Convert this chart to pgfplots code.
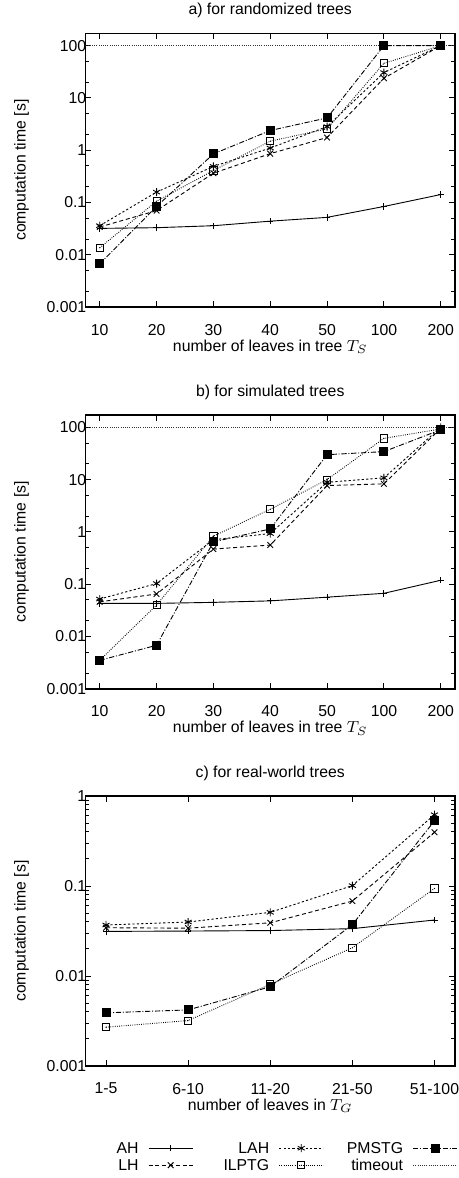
\documentclass[border=0pt]{standalone}
\usepackage{fontspec}
\setmainfont{Liberation Sans}
\usepackage{pgfplots}
\usepackage{pgfplotstable}
\pgfplotsset{compat=1.18}

% open square with a dot in the middle (gnuplot point type)
\pgfdeclareplotmark{sqdot}{%
  \pgfpathrectangle{\pgfqpoint{-\pgfplotmarksize}{-\pgfplotmarksize}}%
    {\pgfqpoint{2\pgfplotmarksize}{2\pgfplotmarksize}}%
  \pgfusepathqstroke
  \pgfpathcircle{\pgfpointorigin}{0.3pt}\pgfusepathqfill}

% randomized trees
\pgfplotstableread{
x AH LH LAH ILPTG PMSTG
0 0.032 0.034 0.036 0.0136 0.0067
1 0.033 0.070 0.158 0.106 0.084
2 0.036 0.363 0.49 0.41 0.85
3 0.044 0.86 1.1 1.49 2.38
4 0.052 1.75 2.83 2.56 4.15
5 0.084 23.8 30.5 45.9 100
6 0.142 100 100 100 100
}\randtab

% simulated trees
\pgfplotstableread{
x AH LH LAH ILPTG PMSTG
0 0.043 0.046 0.052 0.0035 0.0035
1 0.043 0.065 0.103 0.040 0.0068
2 0.045 0.47 0.71 0.83 0.645
3 0.048 0.56 0.93 2.71 1.14
4 0.0565 7.7 8.9 10 30
5 0.067 8.3 10.8 61.5 34.3
6 0.119 96 100 93 90
}\simtab

% real-world trees
\pgfplotstableread{
x AH LH LAH ILPTG PMSTG
0 0.0313 0.0344 0.0369 0.0027 0.0039
1 0.0316 0.034 0.0398 0.0032 0.0042
2 0.032 0.039 0.051 0.0081 0.0076
3 0.0336 0.068 0.101 0.0206 0.0372
4 0.0419 0.395 0.62 0.094 0.53
}\realtab

\pgfplotsset{
  every axis/.append style={
    scale only axis, width=184.75pt,
    axis line style={line width=0.8pt},
    major tick length=3pt, minor tick length=1.8pt,
    every tick/.style={black, line width=0.5pt},
    tick align=inside,
    yticklabel style={xshift=3.9pt},
    xticklabel style={yshift=-5pt},
    title style={at={(0.5,1)}, anchor=base, yshift=3.5pt},
    xlabel style={at={(0.5,0)}, anchor=base, yshift=-22pt},
    ylabel style={at={(-0.173,0.5)}, anchor=center},
    ylabel={computation time [s]},
    legend image code/.code={%
      \draw[mark repeat=2,mark phase=2,#1]
        plot coordinates {(0pt,0pt) (11pt,0pt) (22pt,0pt)};},
  },
  ah/.style={black, line width=0.45pt, mark=+, mark size=1.6pt},
  lh/.style={black, line width=0.45pt, dash pattern=on 2pt off 1.4pt,
    mark=x, mark size=2pt, mark options={solid}},
  lah/.style={black, line width=0.45pt, dash pattern=on 1.1pt off 1.1pt,
    mark=asterisk, mark size=2pt, mark options={solid}},
  ilp/.style={black, line width=0.45pt, dash pattern=on 0.4pt off 0.7pt,
    mark=sqdot, mark size=1.8pt, mark options={solid, fill=black}},
  pms/.style={black, line width=0.45pt,
    dash pattern=on 2.6pt off 0.9pt on 0.5pt off 0.9pt,
    mark=square*, mark size=2pt, mark options={solid}},
  tmo/.style={black!80, line width=0.4pt, dash pattern=on 0.4pt off 0.7pt},
}

\begin{document}
\begin{tikzpicture}[font=\fontsize{7.9pt}{9.5pt}\selectfont]
\useasboundingbox (-42.75pt,-572.35pt) rectangle (186.75pt,16.65pt);

% a) randomized trees
\begin{axis}[ymode=log, anchor=north west, at={(0pt,0pt)}, height=136.9pt,
    xmin=-0.25, xmax=6.25, ymin=0.001, ymax=172,
    xtick={0,...,6},
    ytick={0.001,0.01,0.1,1,10,100},
    yticklabels={0.001,0.01,0.1,1,10,100},
    minor ytick={0.002,0.005,0.02,0.05,0.2,0.5,2,5,20,50},
    xticklabels={10,20,30,40,50,100,200},
    title={a) for randomized trees},
    xlabel={number of leaves in tree $T_S$}]
\addplot[tmo] coordinates {(-0.25,100) (6.25,100)};
\addplot[ah] table[y=AH] {\randtab};
\addplot[lh] table[y=LH] {\randtab};
\addplot[lah] table[y=LAH] {\randtab};
\addplot[ilp] table[y=ILPTG] {\randtab};
\addplot[pms] table[y=PMSTG] {\randtab};
\end{axis}

% b) simulated trees
\begin{axis}[ymode=log, anchor=north west, at={(0pt,-190.85pt)}, height=136.9pt,
    xmin=-0.25, xmax=6.25, ymin=0.001, ymax=172,
    xtick={0,...,6},
    ytick={0.001,0.01,0.1,1,10,100},
    yticklabels={0.001,0.01,0.1,1,10,100},
    minor ytick={0.002,0.005,0.02,0.05,0.2,0.5,2,5,20,50},
    xticklabels={10,20,30,40,50,100,200},
    title={b) for simulated trees},
    xlabel={number of leaves in tree $T_S$}]
\addplot[tmo] coordinates {(-0.25,100) (6.25,100)};
\addplot[ah] table[y=AH] {\simtab};
\addplot[lh] table[y=LH] {\simtab};
\addplot[lah] table[y=LAH] {\simtab};
\addplot[ilp] table[y=ILPTG] {\simtab};
\addplot[pms] table[y=PMSTG] {\simtab};
\end{axis}

% c) real-world trees
\begin{axis}[ymode=log, anchor=north west, at={(0pt,-381.35pt)}, height=135pt,
    xmin=-0.25, xmax=4.25, ymin=0.001, ymax=1,
    xtick={0,...,4},
    ytick={0.001,0.01,0.1,1},
    yticklabels={0.001,0.01,0.1,1},
    minor ytick={0.002,0.003,0.004,0.005,0.006,0.007,0.008,0.009,
                 0.02,0.03,0.04,0.05,0.06,0.07,0.08,0.09,
                 0.2,0.3,0.4,0.5,0.6,0.7,0.8,0.9},
    xticklabels={1-5,6-10,11-20,21-50,51-100},
    title={c) for real-world trees},
    xlabel={number of leaves in $T_G$},
    legend plot pos=right,
    transpose legend, legend columns=2,
    legend style={draw=none, fill=none, at={(1.0081,-0.276)}, anchor=north east,
      inner sep=0pt, row sep=1.2pt, column sep=4pt,
      nodes={inner sep=0.8pt, text width=28.5pt, align=right,
             text height=5.7pt, text depth=0pt},
      /tikz/column 2/.style={column sep=8.75pt},
      /tikz/column 4/.style={column sep=10.4pt}}]
\addplot[ah] table[y=AH] {\realtab};
\addplot[lh] table[y=LH] {\realtab};
\addplot[lah] table[y=LAH] {\realtab};
\addplot[ilp] table[y=ILPTG] {\realtab};
\addplot[pms] table[y=PMSTG] {\realtab};
\addlegendimage{tmo}
\legend{AH,LH,LAH,ILPTG,PMSTG,timeout}
\end{axis}
\end{tikzpicture}
\end{document}
